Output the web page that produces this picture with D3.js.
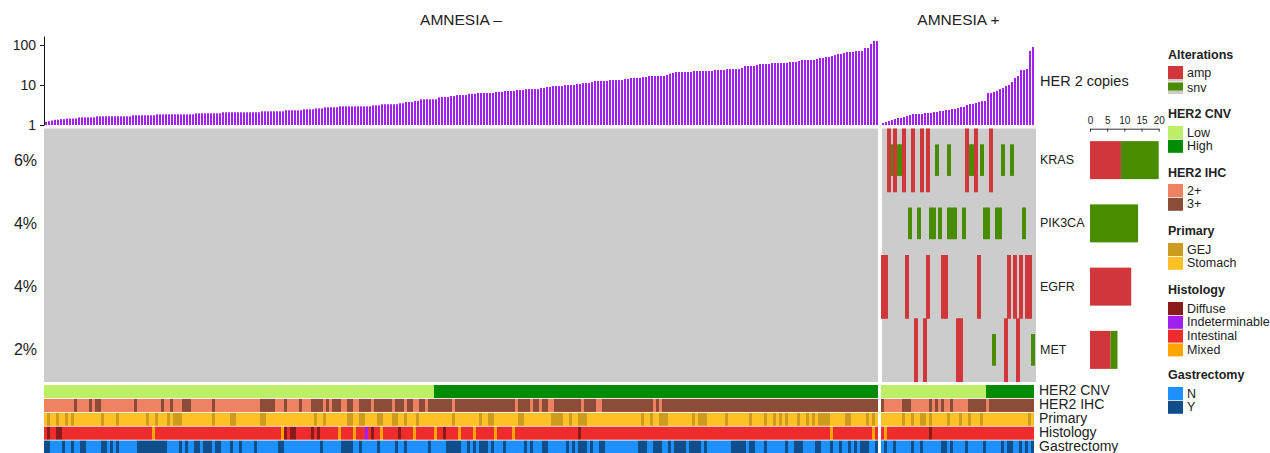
<!DOCTYPE html>
<html><head><meta charset="utf-8">
<script src="https://cdn.jsdelivr.net/npm/d3@7"></script>
<style>
body{margin:0;background:#fff;}
text{font-family:"Liberation Sans",Arial,Helvetica,sans-serif;fill:#222;}
</style>
</head><body>
<svg id="c" width="1270" height="453"></svg>
<script>
// ---------------- DATA ----------------
const groups = ["AMNESIA –", "AMNESIA +"];
// HER2 copies per sample (sorted within each group)
const copiesNeg = [
1.2,1.25,1.3,1.35,1.35,1.4,1.4,1.45,1.45,1.45,1.45,
1.55,1.55,1.55,1.55,1.55,1.55,
1.65,1.65,1.65,1.65,1.65,1.65,1.65,1.65,1.65,1.65,1.65,1.65,
1.75,1.75,1.75,1.75,1.75,1.75,1.75,1.75,
1.85,1.85,1.85,1.85,1.85,1.85,1.85,1.85,1.85,1.85,1.85,1.85,1.85,
1.96,1.96,1.96,1.96,1.96,1.96,1.96,1.96,1.96,
2.08,2.08,2.08,2.08,2.08,2.08,2.08,2.08,2.08,2.08,2.08,2.08,2.08,
2.2,2.2,2.2,2.2,2.2,2.2,2.2,2.2,
2.33,2.33,2.33,2.33,2.33,2.33,2.47,2.47,2.47,2.47,2.6,2.6,2.6,
2.77,2.77,2.77,2.77,2.77,2.93,2.93,2.93,2.93,2.93,2.93,2.93,2.93,2.93,2.93,2.93,
3.1,3.1,3.1,3.3,3.3,3.3,3.3,3.3,3.3,3.5,3.5,3.75,3.75,3.75,4.0,4.0,
4.4,4.4,4.4,4.4,4.4,4.4,4.9,5.0,5.0,5.0,5.3,5.3,
5.6,5.6,5.6,5.6,6.0,6.0,6.0,6.3,6.3,6.3,6.3,6.3,6.3,
6.7,6.7,6.7,7.1,7.1,7.1,7.1,7.5,7.5,7.5,
7.9,7.9,7.9,7.9,7.9,8.4,8.4,8.9,8.9,9.4,9.4,9.4,9.4,
10,10,10,10,10.6,10.6,11.2,11.2,11.2,11.9,
12.6,12.6,12.6,12.6,12.6,13.3,13.3,13.3,13.3,13.3,
14.1,14.1,15,15,15,15,15.8,15.8,16.8,16.8,16.8,16.8,16.8,16.8,
17.8,19.2,20,21.1,21.1,21.1,21.1,21.1,21.1,
22.4,22.4,22.4,22.4,22.4,22.4,22.4,23.7,23.7,23.7,23.7,
25,25,25,25,25,26.6,29.8,29.8,29.8,29.8,31.6,
33.5,33.5,33.5,33.5,35.5,35.5,35.5,35.5,35.5,35.5,
37.6,37.6,37.6,39.8,42.2,42.2,42.2,42.2,42.2,44.7,
47.3,47.3,50,50,53,56,59.6,59.6,63,
66.8,66.8,66.8,70.8,70.8,70.8,84,84,106,126,126
];
const copiesPos = [
1.12,1.19,1.26,1.33,1.41,1.5,1.5,1.58,1.68,1.78,
1.88,1.88,1.88,1.88,2.0,2.0,2.0,2.11,2.11,2.24,2.24,2.37,2.37,2.51,2.51,
2.66,2.82,2.82,3.16,3.35,3.35,3.55,3.76,3.98,3.98,
6.3,6.3,6.7,7.1,7.9,8.4,9.4,10,11.9,15,16.8,23.7,23.7,25.1,70.8,89
];
const copyTicks = [1, 10, 100];

// Alterations (sample indices within AMNESIA + group)
const genes = ["KRAS", "PIK3CA", "EGFR", "MET"];
const krasAmp = [2,4,7,10,13,15,28,31,36];
const krasSnv = [3,4,5,6,18,22,29,30,33,40,43];
const pik3caAmp = [];
const pik3caSnv = [9,12,16,17,19,22,23,24,27,34,35,38,39,47];
const egfrAmp = [0,1,8,15,20,21,32,42,44,46,48,49];
const egfrSnv = [];
const metAmp = [11,14,25,26,41,45];
const metSnv = [37,50];
const countTicks = [0,5,10,15,20];

// Annotation tracks
const trackNames = ["HER2 CNV", "HER2 IHC", "Primary", "Histology", "Gastrectomy"];
const negCnvRuns = [["Low",130],["High",148]];
const posCnvRuns = [["Low",35],["High",16]];
const negIhcRuns = [["2+",10],["3+",1],["2+",4],["3+",1],["2+",1],["3+",2],["2+",11],["3+",1],["2+",8],["3+",1],["2+",2],["3+",1],["2+",3],["3+",3],["2+",7],["3+",1],["2+",15],["3+",5],["2+",3],["3+",1],["2+",4],["3+",1],["2+",3],["3+",4],["2+",1],["3+",1],["2+",1],["3+",3],["2+",2],["3+",2],["2+",2],["3+",4],["2+",1],["3+",6],["2+",1],["3+",3],["2+",1],["3+",2],["2+",2],["3+",2],["2+",1],["3+",8],["2+",1],["3+",20],["2+",1],["3+",4],["2+",1],["3+",2],["2+",1],["3+",2],["2+",2],["3+",9],["2+",1],["3+",4],["2+",2],["3+",17],["2+",1],["3+",1],["2+",1],["3+",72]];
const posIhcRuns = [["3+",1],["2+",6],["3+",3],["2+",6],["3+",1],["2+",1],["3+",1],["2+",1],["3+",1],["2+",2],["3+",1],["2+",5],["3+",6],["2+",1],["3+",15]];
const negGej = [1,4,7,9,19,24,34,37,41,43,44,45,56,62,63,72,73,90,93,101,102,105,106,111,112,116,117,120,124,136,145,148,149,158,159,169,170,171,172,175,178,179,180,199,202,205,206,207,216,218,219,220,227,235,240,243,245,247,251,254,256,258,259,260,261,267,268,274,276];
const posGej = [7,10,13,14,16,22,26,29,33,49];
const negDiffuse = [1,4,5,80,82,83,89,91,109,118,133,178];
const negMixed = [36,79,98,103,112,123,130,138,143,150,156,262,276];
const negIndet = [107];
const posDiffuse = [16];
const posMixed = [1];
const negGastY = [0,1,6,9,12,13,19,20,22,24,31,32,33,34,35,36,37,38,39,40,45,47,50,51,53,54,55,57,58,62,65,70,78,79,92,99,100,101,102,105,111,117,120,128,134,135,136,137,138,141,143,145,146,147,149,153,160,162,166,167,174,176,178,179,180,182,185,186,198,199,200,203,204,205,208,210,211,212,213,215,216,217,218,220,229,230,231,232,233,235,236,240,247,250,251,252,257,258,262,265,268,270,272,273,274,277];
const posGastY = [1,4,10,13,20,21,23,28,34,40,42,43,46,48,50];

// Legend
const legAlter = ["amp","snv"];
const legCnv = ["Low","High"];
const legIhc = ["2+","3+"];
const legPrimary = ["GEJ","Stomach"];
const legHist = ["Diffuse","Indeterminable","Intestinal","Mixed"];
const legGast = ["N","Y"];

const colors = {
  amp:"#d0363a", snv:"#4a8c00", bg:"#cccccc", bar:"#a020f0",
  Low:"#bcee68", High:"#008b00", "2+":"#ee8262", "3+":"#8b4c39",
  GEJ:"#cd9b1d", Stomach:"#ffc125",
  Diffuse:"#8b1a1a", Indeterminable:"#a020f0", Intestinal:"#ee2c2c", Mixed:"#ffa500",
  N:"#1e90ff", Y:"#104e8b"
};

// ---------------- HELPERS ----------------
const fromRuns = runs => runs.flatMap(([v,n]) => Array(n).fill(v));
function fromIdx(n, def, pairs){
  const a = Array(n).fill(def);
  pairs.forEach(([v, idx]) => idx.forEach(i => { if (i < n) a[i] = v; }));
  return a;
}
const nNeg = copiesNeg.length, nPos = copiesPos.length, nTot = nNeg + nPos;

const tracksNeg = {
  "HER2 CNV": fromRuns(negCnvRuns),
  "HER2 IHC": fromRuns(negIhcRuns),
  "Primary": fromIdx(nNeg, "Stomach", [["GEJ", negGej]]),
  "Histology": fromIdx(nNeg, "Intestinal", [["Diffuse", negDiffuse],["Mixed", negMixed],["Indeterminable", negIndet]]),
  "Gastrectomy": fromIdx(nNeg, "N", [["Y", negGastY]])
};
const tracksPos = {
  "HER2 CNV": fromRuns(posCnvRuns),
  "HER2 IHC": fromRuns(posIhcRuns),
  "Primary": fromIdx(nPos, "Stomach", [["GEJ", posGej]]),
  "Histology": fromIdx(nPos, "Intestinal", [["Diffuse", posDiffuse],["Mixed", posMixed]]),
  "Gastrectomy": fromIdx(nPos, "N", [["Y", posGastY]])
};
const ampOf = {KRAS:krasAmp, PIK3CA:pik3caAmp, EGFR:egfrAmp, MET:metAmp};
const snvOf = {KRAS:krasSnv, PIK3CA:pik3caSnv, EGFR:egfrSnv, MET:metSnv};

// ---------------- SCALES ----------------
const svg = d3.select("#c");
const xNeg = d3.scaleBand().domain(d3.range(nNeg)).range([44, 878]);
const xPos = d3.scaleBand().domain(d3.range(nPos)).range([881, 1034]);
const yCop = d3.scaleLog().domain([1, 168]).range([125, 36]);
const yRow = d3.scaleBand().domain(genes).range([128.5, 381.5]);
const yTrack = d3.scaleBand().domain(trackNames).range([385, 453.6]).paddingInner(0.06);
const xCnt = d3.scaleLinear().domain([0, 20]).range([1090, 1158.7]);

// ---------------- TITLES ----------------
svg.append("text").attr("x", (44+878)/2).attr("y", 25).attr("text-anchor","middle")
  .style("font-size","15.5px").text(groups[0]);
svg.append("text").attr("x", (882+1035)/2).attr("y", 25).attr("text-anchor","middle")
  .style("font-size","15.5px").text(groups[1]);

// ---------------- TOP BARS ----------------
const yAx = svg.append("g").attr("transform","translate(44,0)")
  .call(d3.axisLeft(yCop).tickValues(copyTicks).tickFormat(d3.format("d")).tickSizeOuter(0).tickSizeInner(4).tickPadding(4));
yAx.select(".domain").attr("stroke","#111");
yAx.selectAll(".tick line").attr("stroke","#111");
yAx.selectAll("text").style("font-size","14px").attr("fill","#222");

svg.append("g").selectAll("rect").data(copiesNeg).join("rect")
  .attr("x",(d,i)=>xNeg(i)+1).attr("width",2)
  .attr("y",d=>yCop(d)).attr("height",d=>yCop(1)-yCop(d)).attr("fill",colors.bar);
svg.append("g").selectAll("rect").data(copiesPos).join("rect")
  .attr("x",(d,i)=>xPos(i)+1).attr("width",2)
  .attr("y",d=>yCop(d)).attr("height",d=>yCop(1)-yCop(d)).attr("fill",colors.bar);
svg.append("text").attr("x",1040).attr("y",81).attr("dominant-baseline","central")
  .style("font-size","14.5px").text("HER 2 copies");

// ---------------- MUTATION MATRIX ----------------
svg.append("rect").attr("x",44).attr("y",128.5).attr("width",834).attr("height",253.5).attr("fill",colors.bg);
svg.append("rect").attr("x",882).attr("y",128.5).attr("width",154).attr("height",253.5).attr("fill",colors.bg);
const step = yRow.step();
genes.forEach(g => {
  const y0 = yRow(g), yc = y0 + step/2;
  svg.append("g").selectAll("rect").data(snvOf[g]).join("rect")
    .attr("x", j => xPos(j)).attr("width", 4)
    .attr("y", yc - step/4).attr("height", step/2).attr("fill", colors.snv);
  svg.append("g").selectAll("rect").data(ampOf[g]).join("rect")
    .attr("x", j => xPos(j)).attr("width", 4)
    .attr("y", y0).attr("height", step + 0.5).attr("fill", colors.amp);
  const altered = new Set([...ampOf[g], ...snvOf[g]]);
  svg.append("text").attr("x",37).attr("y",yc).attr("text-anchor","end").attr("dominant-baseline","central")
    .style("font-size","16px").text(Math.round(altered.size / nTot * 100) + "%");
  svg.append("text").attr("x",1040).attr("y",yc).attr("dominant-baseline","central")
    .style("font-size","12.5px").text(g);
  // side counts
  const na = ampOf[g].length, ns = snvOf[g].length;
  svg.append("rect").attr("x",xCnt(0)).attr("y",yc-19).attr("width",xCnt(na)-xCnt(0)).attr("height",38).attr("fill",colors.amp);
  svg.append("rect").attr("x",xCnt(na)).attr("y",yc-19).attr("width",xCnt(na+ns)-xCnt(na)).attr("height",38).attr("fill",colors.snv);
});
const cAx = svg.append("g").attr("transform","translate(0,128.7)")
  .call(d3.axisTop(xCnt).tickValues(countTicks).tickSizeInner(-3).tickSizeOuter(0).tickPadding(5));
cAx.select(".domain").attr("stroke","#333");
cAx.selectAll(".tick line").attr("stroke","#333");
cAx.selectAll("text").style("font-size","10px").attr("fill","#222");

// ---------------- ANNOTATION TRACKS ----------------
trackNames.forEach(t => {
  const y = yTrack(t), h = yTrack.bandwidth();
  svg.append("g").selectAll("rect").data(tracksNeg[t]).join("rect")
    .attr("x",(d,i)=>xNeg(i)).attr("width",xNeg.bandwidth()).attr("y",y).attr("height",h)
    .attr("fill",d=>colors[d]);
  svg.append("g").selectAll("rect").data(tracksPos[t]).join("rect")
    .attr("x",(d,i)=>xPos(i)).attr("width",xPos.bandwidth()).attr("y",y).attr("height",h)
    .attr("fill",d=>colors[d]);
  svg.append("text").attr("x",1039).attr("y",y+h/2-1.3).attr("dominant-baseline","central")
    .style("font-size","14px").text(t);
});

// ---------------- LEGEND ----------------
const lx = 1168;
function legendTitle(y, s){
  svg.append("text").attr("x",lx).attr("y",y).attr("dominant-baseline","central")
    .style("font-size","12.5px").style("font-weight","bold").text(s);
}
function legendItems(y0, items){
  items.forEach((it,k)=>{
    const y = y0 + 13.8*k;
    svg.append("rect").attr("x",lx).attr("y",y).attr("width",15).attr("height",13).attr("fill",colors[it]);
    svg.append("text").attr("x",lx+19).attr("y",y+6.5).attr("dominant-baseline","central")
      .style("font-size","12.5px").text(it);
  });
}
legendTitle(55, "Alterations");
// alteration swatches drawn on the grey background
svg.append("rect").attr("x",lx).attr("y",66).attr("width",15).attr("height",15.5).attr("fill",colors.bg);
svg.append("rect").attr("x",lx).attr("y",66).attr("width",15).attr("height",13).attr("fill",colors.amp);
svg.append("text").attr("x",lx+19).attr("y",73).attr("dominant-baseline","central").style("font-size","12.5px").text(legAlter[0]);
svg.append("rect").attr("x",lx).attr("y",82.5).attr("width",15).attr("height",11.5).attr("fill",colors.bg);
svg.append("rect").attr("x",lx).attr("y",82.5).attr("width",15).attr("height",8).attr("fill",colors.snv);
svg.append("text").attr("x",lx+19).attr("y",87.5).attr("dominant-baseline","central").style("font-size","12.5px").text(legAlter[1]);

legendTitle(114, "HER2 CNV"); legendItems(126, legCnv);
legendTitle(172.5, "HER2 IHC"); legendItems(184, legIhc);
legendTitle(231, "Primary"); legendItems(243, legPrimary);
legendTitle(290, "Histology"); legendItems(302, legHist);
legendTitle(375, "Gastrectomy"); legendItems(387, legGast);
</script>
</body></html>
